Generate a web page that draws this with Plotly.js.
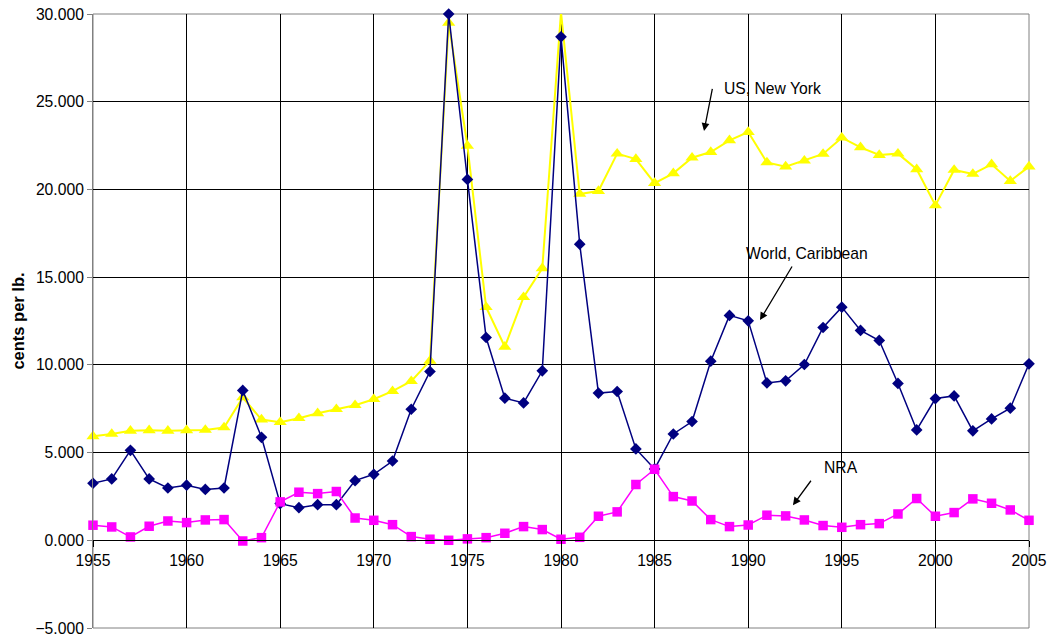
<!DOCTYPE html>
<html>
<head>
<meta charset="utf-8">
<script src="https://cdn.plot.ly/plotly-3.0.1.min.js"></script>
<style>html,body{margin:0;padding:0;background:#fff;}#chart{width:1053px;height:641px;}</style>
</head>
<body>
<div id="chart"></div>
<script>
const years = [];
for (let y = 1955; y <= 2005; y++) years.push(y);

const usNewYork = [5.93, 6.06, 6.24, 6.27, 6.24, 6.27, 6.29, 6.43, 8.14, 6.88,
  6.73, 6.96, 7.24, 7.47, 7.70, 8.04, 8.50, 9.07, 10.23, 29.50,
  22.49, 13.29, 11.03, 13.86, 15.50, 30.10, 19.74, 19.91, 22.04, 21.73,
  20.36, 20.92, 21.81, 22.13, 22.80, 23.27, 21.54, 21.30, 21.64, 22.02,
  22.95, 22.40, 21.96, 22.04, 21.15, 19.09, 21.11, 20.88, 21.43, 20.48, 21.30];

const worldCaribbean = [3.25, 3.50, 5.13, 3.50, 2.98, 3.14, 2.90, 2.98, 8.54, 5.87,
  2.09, 1.86, 2.03, 2.03, 3.40, 3.76, 4.52, 7.47, 9.62, 30.00,
  20.57, 11.56, 8.10, 7.83, 9.66, 28.70, 16.88, 8.39, 8.48, 5.21,
  4.07, 6.06, 6.77, 10.21, 12.82, 12.51, 8.97, 9.09, 10.02, 12.13,
  13.29, 11.96, 11.39, 8.94, 6.29, 8.08, 8.23, 6.24, 6.92, 7.53, 10.06];

const nra = [0.86, 0.76, 0.19, 0.80, 1.10, 1.01, 1.16, 1.18, -0.04, 0.15,
  2.19, 2.74, 2.66, 2.78, 1.27, 1.14, 0.89, 0.21, 0.06, 0.00,
  0.08, 0.15, 0.40, 0.78, 0.61, 0.06, 0.17, 1.37, 1.62, 3.18,
  4.05, 2.49, 2.24, 1.18, 0.78, 0.87, 1.43, 1.39, 1.16, 0.84,
  0.74, 0.89, 0.95, 1.50, 2.38, 1.37, 1.58, 2.36, 2.11, 1.73, 1.14];

const yTitle = 'cents per lb.';
const labels = ['US, New York', 'World, Caribbean', 'NRA'];

const fam = 'Arial, "Liberation Sans", sans-serif';
const font = {family: fam, size: 15.7, color: '#000'};

const traces = [
  {x: years, y: usNewYork, type: 'scatter', mode: 'lines+markers', name: labels[0],
   line: {color: '#FFFF00', width: 2}, marker: {symbol: 'triangle-up', size: 11.5, color: '#FFFF00'}, cliponaxis: false},
  {x: years, y: worldCaribbean, type: 'scatter', mode: 'lines+markers', name: labels[1],
   line: {color: '#000080', width: 1.5}, marker: {symbol: 'diamond', size: 9, color: '#000080'}, cliponaxis: false},
  {x: years, y: nra, type: 'scatter', mode: 'lines+markers', name: labels[2],
   line: {color: '#FF00FF', width: 1.5}, marker: {symbol: 'square', size: 9.5, color: '#FF00FF'}, cliponaxis: false}
];

const arrow = {text: '', showarrow: true, arrowhead: 2, arrowsize: 1.2, arrowwidth: 1.3, arrowcolor: '#000', axref: 'x', ayref: 'y'};

const layout = {
  width: 1053, height: 641,
  margin: {l: 93, r: 24, t: 14, b: 13},
  paper_bgcolor: '#fff', plot_bgcolor: '#fff',
  showlegend: false,
  font: font,
  xaxis: {
    range: [1955, 2005], tick0: 1955, dtick: 5,
    anchor: 'free', position: 5 / 35,
    showgrid: true, gridcolor: '#000', gridwidth: 1,
    showline: true, linecolor: '#000', linewidth: 1,
    ticks: 'outside', ticklen: 6, tickcolor: '#000',
    zeroline: false, tickfont: font, fixedrange: true
  },
  yaxis: {
    range: [-5, 30], tick0: -5, dtick: 5, tickformat: '.3f',
    showgrid: true, gridcolor: '#000', gridwidth: 1,
    zeroline: true, zerolinecolor: '#000', zerolinewidth: 1,
    showline: true, linecolor: '#808080', linewidth: 1,
    ticks: 'outside', ticklen: 5, tickcolor: '#808080',
    tickfont: font, fixedrange: true,
    title: {text: yTitle, font: {family: fam, size: 16.5, color: '#000', weight: 'bold'}, standoff: 6}
  },
  shapes: [
    {type: 'rect', xref: 'paper', yref: 'paper', x0: 0, x1: 1, y0: 0, y1: 1, line: {color: '#808080', width: 1}, layer: 'between'}
  ],
  annotations: [
    {x: 1988.6, y: 25.78, text: labels[0], showarrow: false, xanchor: 'left', yanchor: 'middle', font: font},
    Object.assign({x: 1987.64, y: 23.33, ax: 1988.1, ay: 25.82}, arrow),
    {x: 1989.78, y: 16.37, text: labels[1], showarrow: false, xanchor: 'left', yanchor: 'middle', font: font},
    Object.assign({x: 1990.63, y: 12.55, ax: 1992.39, ay: 15.69}, arrow),
    {x: 1993.94, y: 4.16, text: labels[2], showarrow: false, xanchor: 'left', yanchor: 'middle', font: font},
    Object.assign({x: 1992.39, y: 2.0, ax: 1993.41, ay: 3.48}, arrow)
  ]
};

Plotly.newPlot('chart', traces, layout, {displayModeBar: false, staticPlot: true});
</script>
</body>
</html>
